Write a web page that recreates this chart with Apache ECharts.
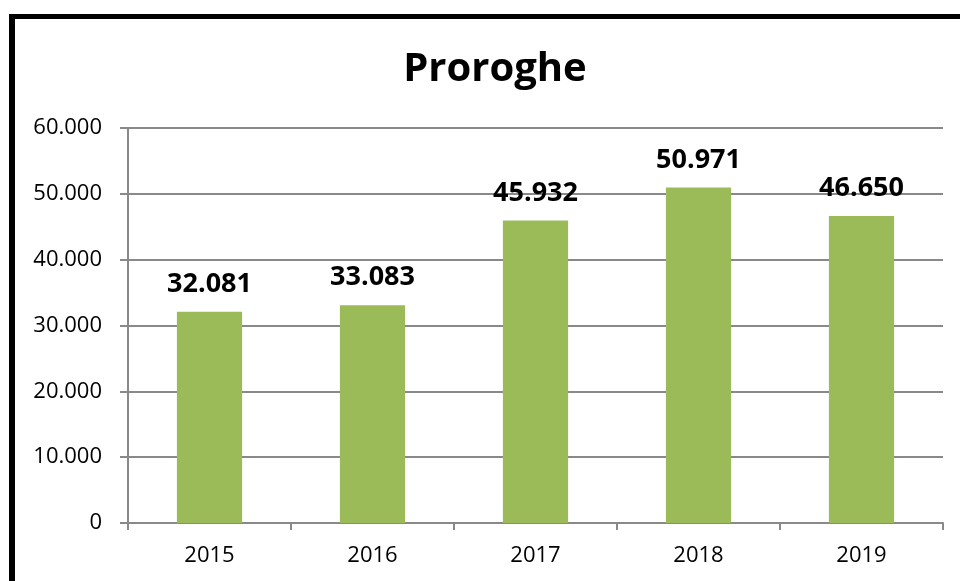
<!DOCTYPE html>
<html>
<head>
<meta charset="utf-8">
<script src="https://cdn.jsdelivr.net/npm/echarts@6/dist/echarts.min.js"></script>
<style>
  html, body { margin: 0; padding: 0; background: #fff; }
  #main { width: 960px; height: 581px; }
</style>
</head>
<body>
<div id="main"></div>
<script>
var anni = ["2015", "2016", "2017", "2018", "2019"];
var proroghe = [32081, 33083, 45932, 50971, 46650];

// separatore delle migliaia con il punto
function fmt(v) {
  return String(v).replace(/\B(?=(\d{3})+(?!\d))/g, ".");
}

var myChart = echarts.init(document.getElementById("main"));
var font = "'Open Sans', 'Noto Sans', sans-serif";

var option = {
  backgroundColor: "#fff",
  animation: false,
  title: {
    text: "Proroghe",
    left: 490,
    top: 45,
    textAlign: "center",
    textStyle: { fontFamily: font, fontSize: 40, fontWeight: "bold", color: "#000" }
  },
  graphic: [
    { type: "rect", shape: { x: 9, y: 14, width: 6, height: 567 }, style: { fill: "#000" } },
    { type: "rect", shape: { x: 9, y: 14, width: 951, height: 5 }, style: { fill: "#000" } }
  ],
  grid: { left: 128, right: 17, top: 128, bottom: 58 },
  xAxis: {
    type: "category",
    data: anni,
    axisLine: { lineStyle: { color: "#898989", width: 2 } },
    axisTick: { show: true, length: 7, lineStyle: { color: "#898989", width: 2 } },
    axisLabel: { color: "#000", fontFamily: font, fontSize: 22, margin: 22 }
  },
  yAxis: {
    type: "value",
    min: 0,
    max: 60000,
    interval: 10000,
    axisLine: { show: true, lineStyle: { color: "#898989", width: 2 } },
    axisTick: { show: true, length: 8, lineStyle: { color: "#898989", width: 2 } },
    splitLine: { lineStyle: { color: "#898989", width: 2 } },
    axisLabel: { color: "#000", fontFamily: font, fontSize: 22, margin: 26, formatter: fmt }
  },
  series: [
    {
      type: "bar",
      data: proroghe,
      barWidth: "40%",
      itemStyle: { color: "#9BBB59" },
      label: {
        show: true,
        position: "top",
        distance: 14,
        color: "#000",
        fontFamily: font,
        fontSize: 27,
        fontWeight: "bold",
        formatter: function (p) { return fmt(p.value); }
      }
    }
  ]
};

myChart.setOption(option);
</script>
</body>
</html>
